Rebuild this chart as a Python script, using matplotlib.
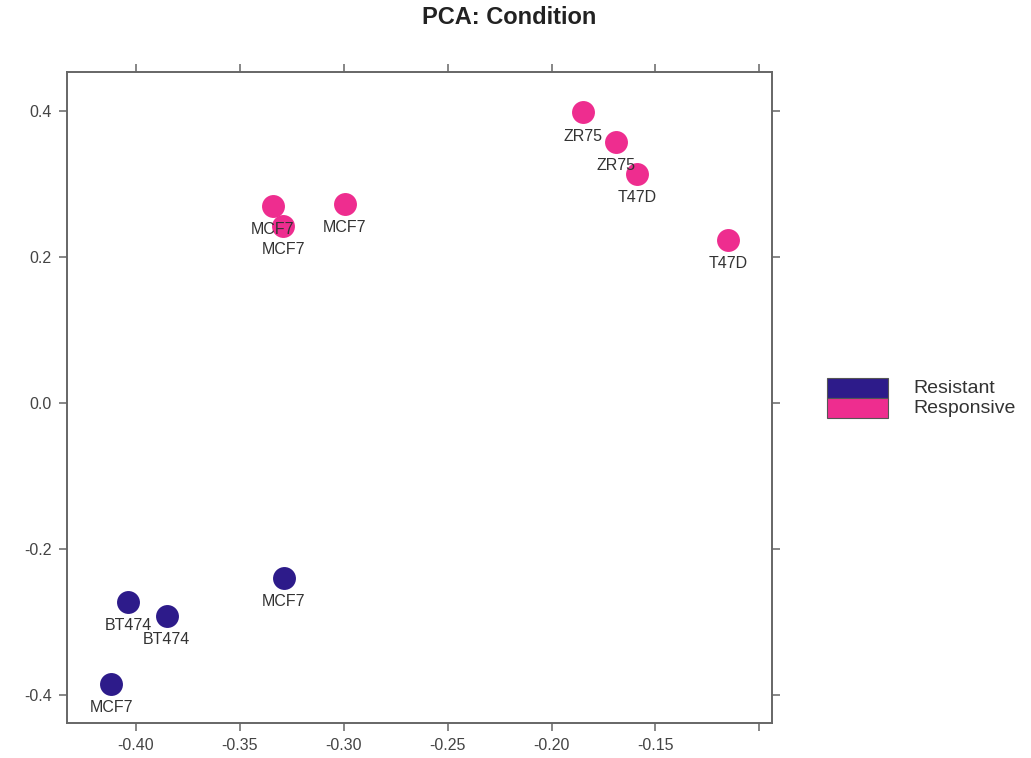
import matplotlib
matplotlib.use('Agg')
import matplotlib.pyplot as plt
from matplotlib.patches import Rectangle

plt.rcParams['font.family'] = ['Liberation Sans', 'DejaVu Sans']

# PC1 / PC2 scores per sample
res_x = [-0.412, -0.4038, -0.3852, -0.3288]
res_y = [-0.385, -0.2726, -0.2914, -0.2397]
res_labels = ['MCF7', 'BT474', 'BT474', 'MCF7']

resp_x = [-0.3343, -0.3292, -0.2995, -0.1850, -0.1692, -0.1588, -0.1149]
resp_y = [0.2703, 0.2425, 0.2726, 0.398, 0.3575, 0.3133, 0.2233]
resp_labels = ['MCF7', 'MCF7', 'MCF7', 'ZR75', 'ZR75', 'T47D', 'T47D']

groups = ['Resistant', 'Responsive']
colors = ['#2d1b8a', '#ee2d8f']

x_ticks = [-0.40, -0.35, -0.30, -0.25, -0.20, -0.15, -0.10]
x_ticklabels = ['-0.40', '-0.35', '-0.30', '-0.25', '-0.20', '-0.15', '']
y_ticks = [0.4, 0.2, 0.0, -0.2, -0.4]
y_ticklabels = ['0.4', '0.2', '0.0', '-0.2', '-0.4']

fig = plt.figure(figsize=(10.31, 7.58), dpi=100)
ax = fig.add_axes([0.065, 0.046, 0.684, 0.859])

series = [(res_x, res_y, res_labels), (resp_x, resp_y, resp_labels)]
for (xs, ys, labs), col in zip(series, colors):
    ax.plot(xs, ys, 'o', ms=16.5, color=col, mec='none', zorder=3)
    for x, y, lab in zip(xs, ys, labs):
        ax.annotate(lab, (x, y), xytext=(0, -17), textcoords='offset points',
                    ha='center', va='center', fontsize=11.5, color='#333333',
                    zorder=4)

ax.set_xlim(-0.4332, -0.0938)
ax.set_ylim(-0.4384, 0.4534)
ax.set_xticks(x_ticks)
ax.set_xticklabels(x_ticklabels)
ax.set_yticks(y_ticks)
ax.set_yticklabels(y_ticklabels)
ax.tick_params(direction='out', length=6, width=1.1, color='#666666',
               labelcolor='#444444', labelsize=11.5, pad=5,
               top=True, right=True, labeltop=False, labelright=False)
for s in ax.spines.values():
    s.set_color('#666666')
    s.set_linewidth(1.4)

fig.text(0.494, 0.977, 'PCA: Condition', ha='center', va='center',
         fontsize=17, fontweight='bold', color='#222222')

# key on the right
for i, (g, col) in enumerate(zip(groups, colors)):
    y0 = 0.4749 - i * 0.0264
    fig.patches.append(Rectangle((0.802, y0), 0.0592, 0.0264,
                                 transform=fig.transFigure, facecolor=col,
                                 edgecolor='#555555', linewidth=0.8))
    fig.text(0.8855, y0 + 0.0132, g, ha='left', va='center',
             fontsize=14, color='#333333')

fig.savefig('out.png', dpi=100)
